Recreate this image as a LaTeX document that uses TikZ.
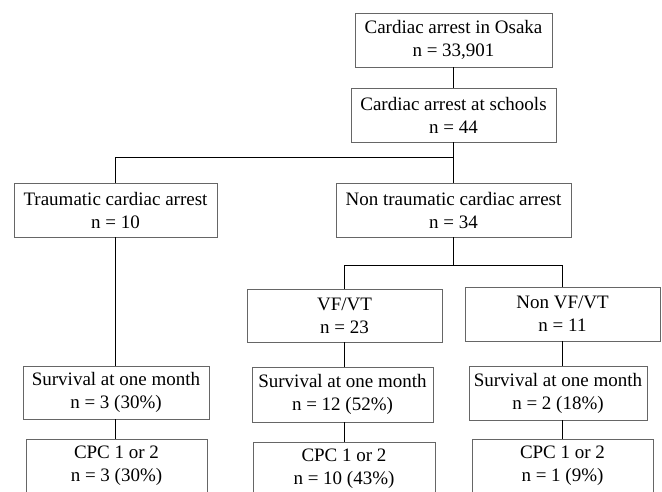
\documentclass[tikz,border=0pt]{standalone}
\usepackage{fontspec}
\setmainfont{Liberation Serif}
\tikzset{
  box/.style={draw=black!60, line width=0.9pt, align=center, inner sep=0pt,
              minimum height=54pt, font=\fontsize{19}{23}\selectfont},
  link/.style={draw=black, line width=0.9pt}
}
\begin{document}
\begin{tikzpicture}[x=1pt,y=-1pt]
            \useasboundingbox (0,0) rectangle (662,491);
            \clip (0,0) rectangle (662,491);

            % Top of the chart
            \node[box,minimum width=197pt] (osaka) at (453.5,40) {Cardiac arrest in Osaka\\n = 33,901};
            \node[box,minimum width=205pt] (school) at (453.5,115) {Cardiac arrest at schools\\n = 44};

            % First split
            \node[box,minimum width=203pt] (trauma) at (115.5,210) {Traumatic cardiac arrest\\n = 10};
            \node[box,minimum width=235pt] (nontrauma) at (453.5,210) {Non traumatic cardiac arrest\\n = 34};

            % Second split
            \node[box,minimum width=195pt,minimum height=53pt] (vf) at (344.5,315.5) {VF/VT\\n = 23};
            \node[box,minimum width=195pt] (nonvf) at (562.5,314) {Non VF/VT\\n = 11};

            % Survival
            \node[box,minimum width=186pt,minimum height=53pt] (survT) at (116,392.5) {Survival at one month\\n = 3 (30\%)};
            \node[box,minimum width=181pt,minimum height=55pt] (survV) at (342.5,394.5) {Survival at one month\\n = 12 (52\%)};
            \node[box,minimum width=178pt] (survN) at (558,393) {Survival at one month\\n = 2 (18\%)};

            % Neurological outcome
            \node[box,minimum width=181pt] (cpcT) at (116.5,466) {CPC 1 or 2\\n = 3 (30\%)};
            \node[box,minimum width=182pt] (cpcV) at (344,469) {CPC 1 or 2\\n = 10 (43\%)};
            \node[box,minimum width=181pt] (cpcN) at (562.5,466) {CPC 1 or 2\\n = 1 (9\%)};

            % Branch points
            \coordinate (split1) at ([yshift=-15pt]school.south);
            \coordinate (split2) at ([yshift=-28pt]nontrauma.south);

            % The lines
            \draw[link] (osaka) -- (school);
            \draw[link] (school) -- (nontrauma);
            \draw[link] (trauma.north) |- (split1);
            \draw[link] (nontrauma) -- (split2);
            \draw[link] (vf.north) |- (split2) -| (nonvf.north);
            \draw[link] (trauma.south) -- (trauma.south |- survT.north);
            \draw[link] (trauma.south |- survT.south) -- (trauma.south |- cpcT.north);
            \draw[link] (vf.south) -- (vf.south |- survV.north);
            \draw[link] (vf.south |- survV.south) -- (vf.south |- cpcV.north);
            \draw[link] (nonvf.south) -- (nonvf.south |- survN.north);
            \draw[link] (nonvf.south |- survN.south) -- (nonvf.south |- cpcN.north);
        \end{tikzpicture}
\end{document}
